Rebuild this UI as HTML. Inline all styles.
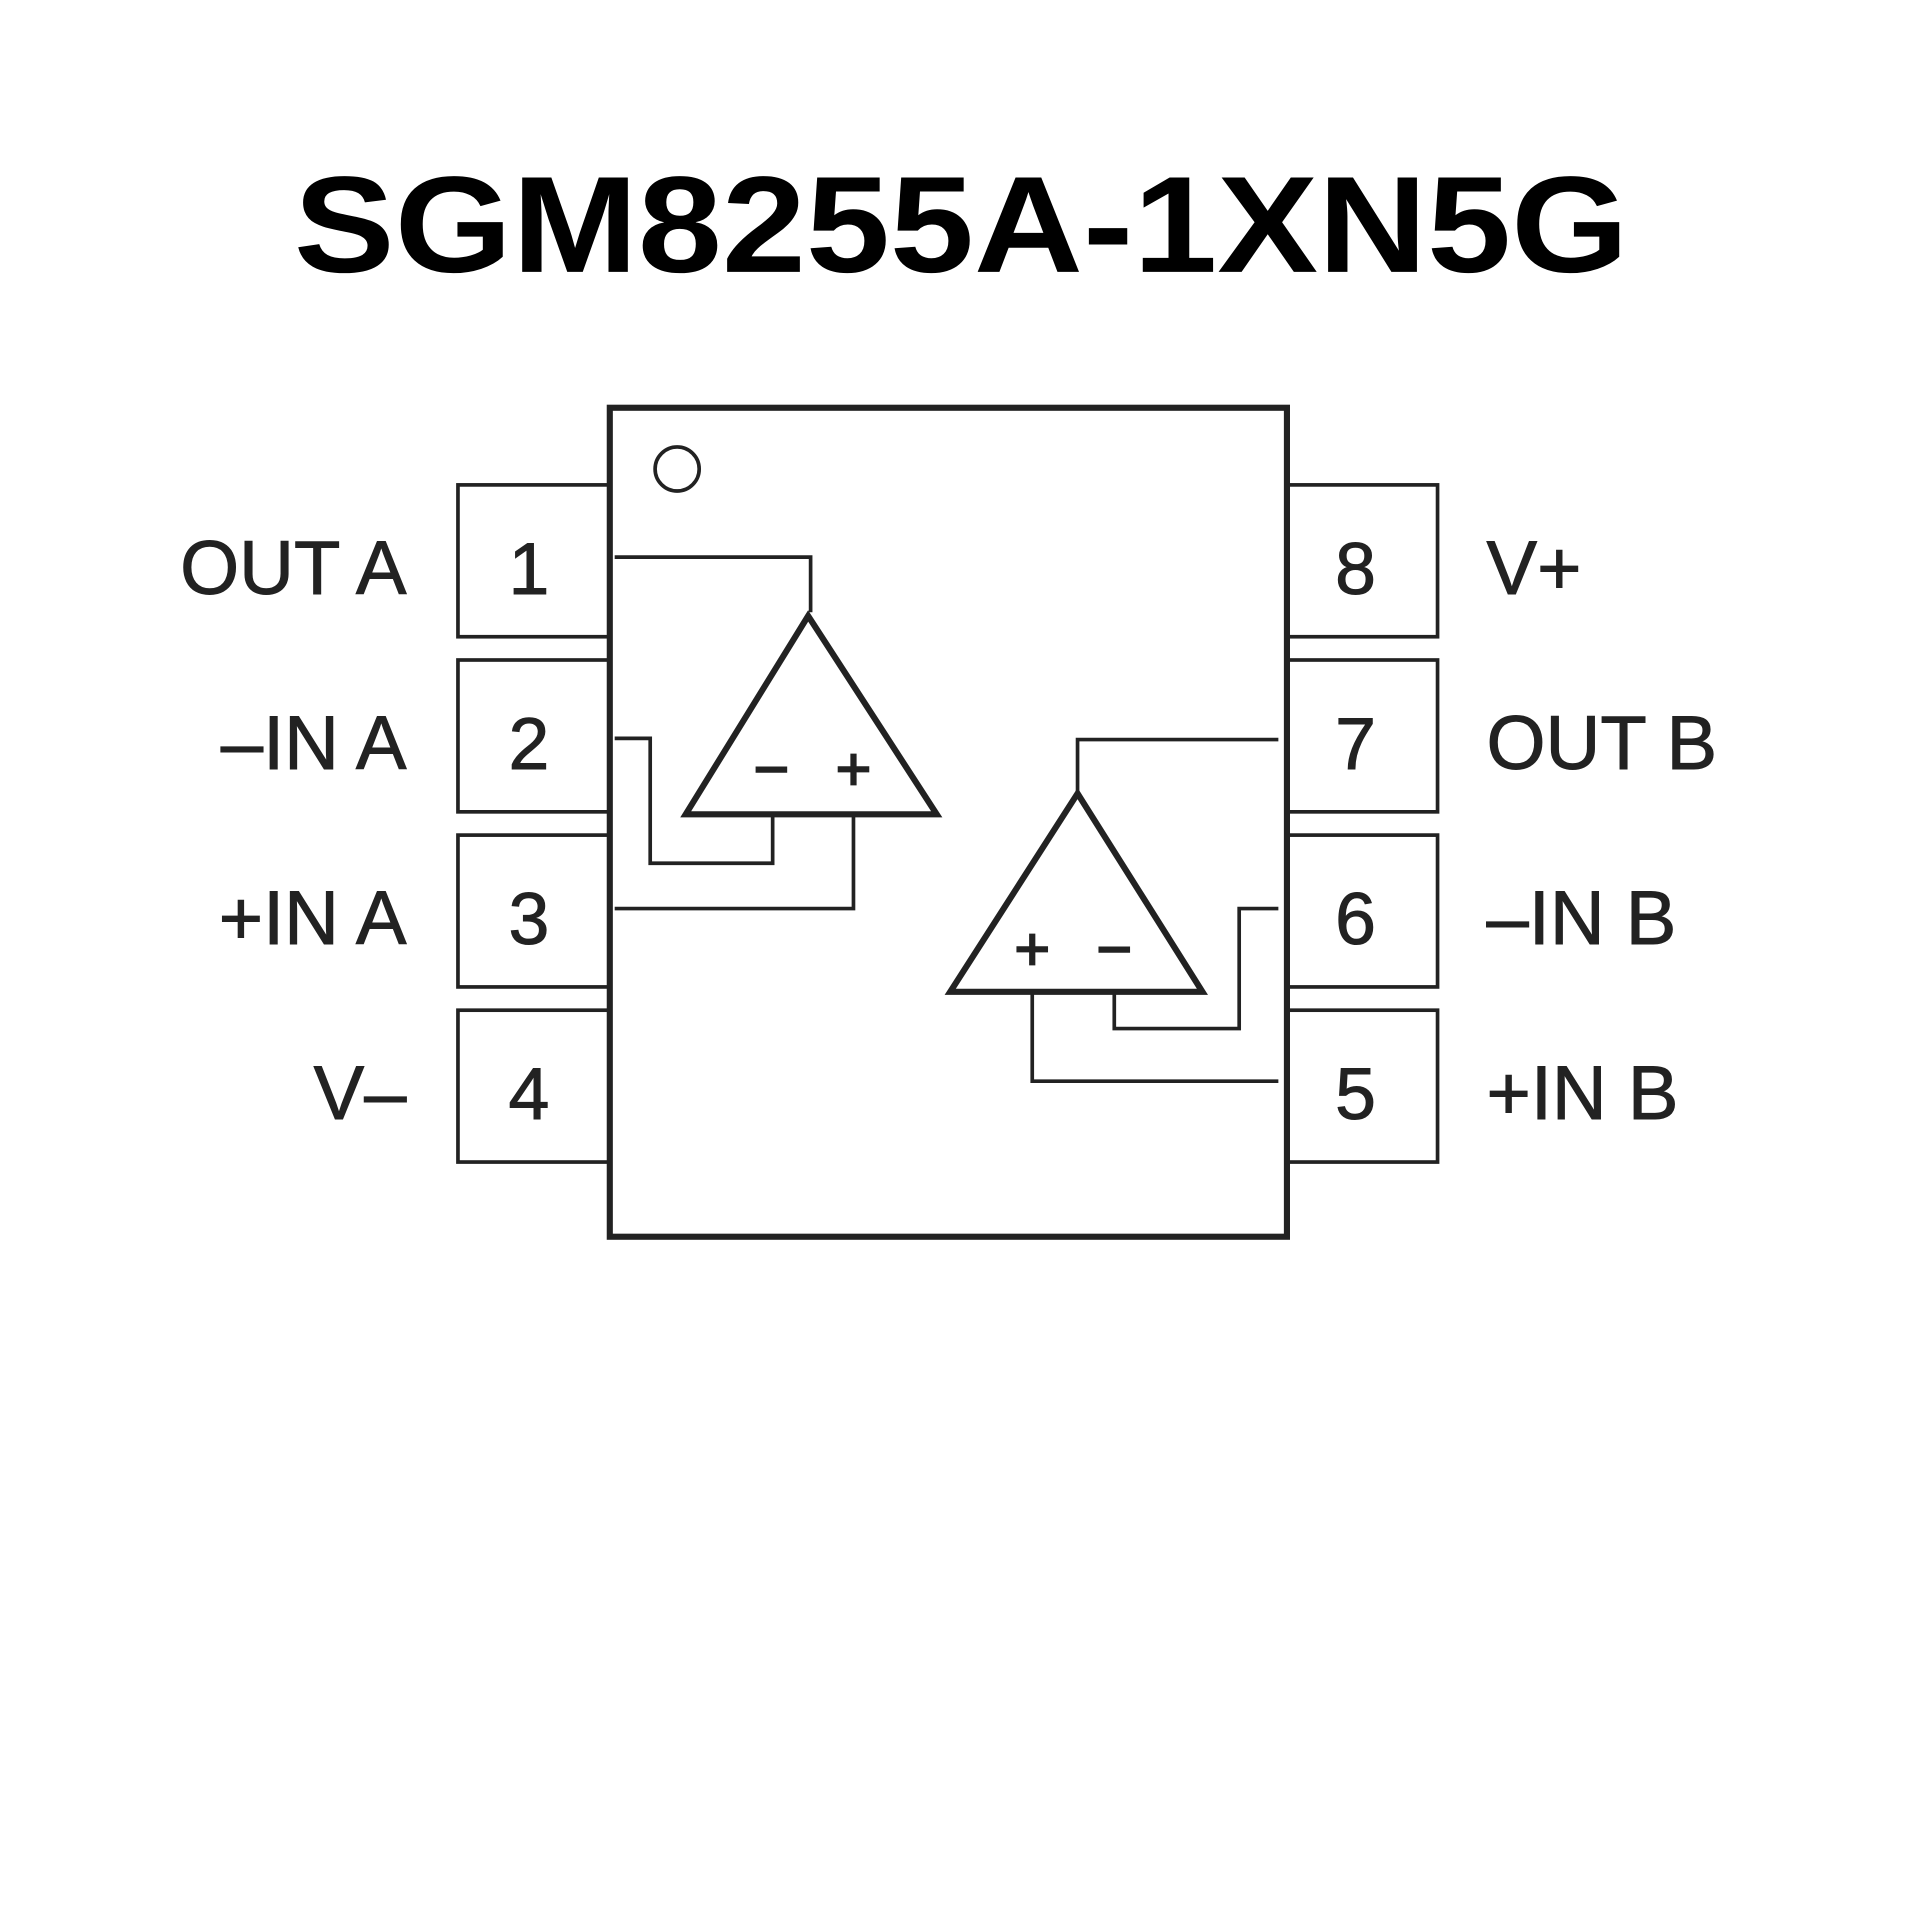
<!DOCTYPE html>
<html><head><meta charset="utf-8"><style>
html,body{margin:0;padding:0;background:#fff}
svg{display:block}
</style></head><body>
<svg width="1920" height="1920" viewBox="0 0 1568 1568" xmlns="http://www.w3.org/2000/svg">
<rect width="1568" height="1568" fill="#fff"/>
<text x="785" y="222" text-anchor="middle" font-family="Liberation Sans, sans-serif" font-weight="bold" font-size="112" textLength="1090" lengthAdjust="spacingAndGlyphs" fill="#000">SGM8255A-1XN5G</text>
<g fill="none" stroke="#222">
<rect x="498" y="333" width="553" height="677" stroke-width="5"/>
<circle cx="553" cy="383" r="18" stroke-width="3"/>
<g stroke-width="3">
<rect x="374" y="396" width="124" height="124"/>
<rect x="374" y="539" width="124" height="124"/>
<rect x="374" y="682" width="124" height="124"/>
<rect x="374" y="825" width="124" height="124"/>
<rect x="1051" y="396" width="123" height="124"/>
<rect x="1051" y="539" width="123" height="124"/>
<rect x="1051" y="682" width="123" height="124"/>
<rect x="1051" y="825" width="123" height="124"/>
<polyline points="502,455 662,455 662,500"/>
<polyline points="502,603 531,603 531,705 631,705 631,667"/>
<polyline points="502,742 697,742 697,667"/>
<polyline points="880,648 880,604 1044,604"/>
<polyline points="910,812 910,840 1012,840 1012,742 1044,742"/>
<polyline points="843,812 843,883 1044,883"/>
</g>
<polygon points="660,503 560,665 765,665" stroke-width="5" stroke-linejoin="miter"/>
<polygon points="880,648 776,810 982,810" stroke-width="5" stroke-linejoin="miter"/>
</g>
<g font-family="Liberation Sans, sans-serif" fill="#222" stroke="#222">
<g font-size="50" text-anchor="middle" stroke-width="1.5">
<text x="630" y="645">−</text><text x="697" y="645">+</text>
<text x="843" y="792">+</text><text x="910" y="792">−</text>
</g>
<g font-size="60" text-anchor="middle" stroke-width="0.8">
<text x="432" y="485">1</text><text x="432" y="628">2</text><text x="432" y="771">3</text><text x="432" y="914">4</text>
<text x="1107" y="485">8</text><text x="1107" y="628">7</text><text x="1107" y="771">6</text><text x="1107" y="914">5</text>
</g>
<g font-size="62" text-anchor="end" stroke-width="0.8">
<text x="332" y="485">OUT A</text><text x="332" y="628">–IN A</text><text x="332" y="771">+IN A</text><text x="332" y="914">V–</text>
</g>
<g font-size="62" stroke-width="0.8">
<text x="1214" y="485">V+</text><text x="1214" y="628">OUT B</text><text x="1214" y="771">–IN B</text><text x="1214" y="914">+IN B</text>
</g>
</g>
</svg>
</body></html>
